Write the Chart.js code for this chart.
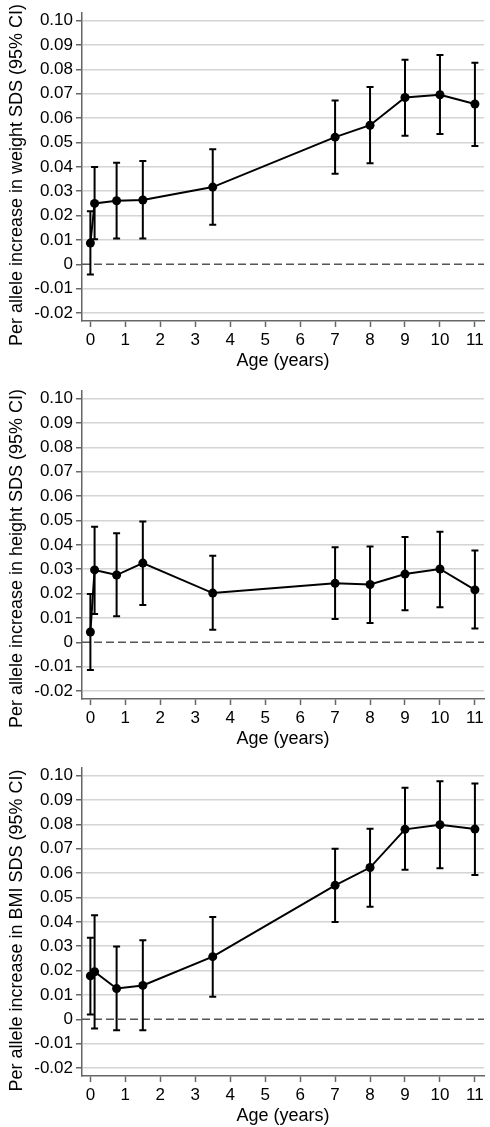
<!DOCTYPE html>
<html>
<head>
<meta charset="utf-8">
<script src="https://cdn.jsdelivr.net/npm/chart.js@4.4.1/dist/chart.umd.min.js"></script>
<style>
  html, body { margin: 0; padding: 0; background: #fff; }
  #wrap { position: relative; width: 490px; height: 1127px; }
  .panel { position: absolute; left: 0; width: 490px; height: 372px; }
</style>
</head>
<body>
<div id="wrap">
  <div class="panel" style="top:0px"><canvas id="chartWeight"></canvas></div>
  <div class="panel" style="top:378px"><canvas id="chartHeight"></canvas></div>
  <div class="panel" style="top:755px"><canvas id="chartBmi"></canvas></div>
</div>
<script>
// ages of measurement (years)
const ages = [0, 0.12, 0.75, 1.5, 3.5, 7, 8, 9, 10, 11];

// weight SDS
const weightEst = [0.0087, 0.0250, 0.0261, 0.0264, 0.0317, 0.0522, 0.0571, 0.0685, 0.0696, 0.0658];
const weightLo  = [-0.0042, 0.0103, 0.0106, 0.0106, 0.0162, 0.0372, 0.0415, 0.0528, 0.0535, 0.0486];
const weightHi  = [0.0218, 0.0399, 0.0417, 0.0424, 0.0472, 0.0673, 0.0728, 0.0840, 0.0859, 0.0828];

// height SDS
const heightEst = [0.0042, 0.0297, 0.0276, 0.0325, 0.0202, 0.0242, 0.0237, 0.0280, 0.0301, 0.0215];
const heightLo  = [-0.0114, 0.0116, 0.0107, 0.0153, 0.0051, 0.0096, 0.0079, 0.0131, 0.0144, 0.0056];
const heightHi  = [0.0198, 0.0474, 0.0448, 0.0496, 0.0355, 0.0390, 0.0393, 0.0432, 0.0454, 0.0377];

// BMI SDS
const bmiEst = [0.0178, 0.0195, 0.0126, 0.0139, 0.0257, 0.0550, 0.0623, 0.0780, 0.0799, 0.0781];
const bmiLo  = [0.0020, -0.0038, -0.0045, -0.0045, 0.0092, 0.0399, 0.0462, 0.0614, 0.0620, 0.0592];
const bmiHi  = [0.0335, 0.0427, 0.0299, 0.0324, 0.0420, 0.0700, 0.0782, 0.0951, 0.0977, 0.0968];

// axis ticks
const xTicks = [0, 1, 2, 3, 4, 5, 6, 7, 8, 9, 10, 11];
const yTicks = [-0.02, -0.01, 0, 0.01, 0.02, 0.03, 0.04, 0.05, 0.06, 0.07, 0.08, 0.09, 0.10];
const yTickLabels = ["-0.02", "-0.01", "0", "0.01", "0.02", "0.03", "0.04", "0.05", "0.06", "0.07", "0.08", "0.09", "0.10"];

const axisColor = "#666666";
const gridColor = "#d4d4d4";
const fontFamily = "'Liberation Sans', Arial, sans-serif";

// error bars, dashed zero line and y title, drawn with the chart's own scales
const ciPlugin = {
    id: "ciBars",
    beforeDatasetsDraw(chart) {
        const ctx = chart.ctx;
        const xs = chart.scales.x;
        const ys = chart.scales.y;
        const area = chart.chartArea;

        // reference line at 0
        ctx.save();
        ctx.strokeStyle = "#555555";
        ctx.lineWidth = 1.5;
        ctx.setLineDash([8, 4]);
        const y0 = ys.getPixelForValue(0);
        ctx.beginPath();
        ctx.moveTo(area.left, y0);
        ctx.lineTo(area.right, y0);
        ctx.stroke();
        ctx.restore();

        const ci = chart.options.plugins.ciBars;
        ctx.save();
        ctx.strokeStyle = "#000";
        ctx.lineWidth = 2;
        ages.forEach((a, i) => {
            const x = xs.getPixelForValue(a);
            const yl = ys.getPixelForValue(ci.lo[i]);
            const yh = ys.getPixelForValue(ci.hi[i]);
            ctx.beginPath();
            ctx.moveTo(x, yl); ctx.lineTo(x, yh);
            ctx.moveTo(x - 3.5, yl); ctx.lineTo(x + 3.5, yl);
            ctx.moveTo(x - 3.5, yh); ctx.lineTo(x + 3.5, yh);
            ctx.stroke();
        });
        ctx.restore();
    },
    afterDraw(chart) {
        // y axis title, centred a bit lower than the plot area (as in the original)
        const ci = chart.options.plugins.ciBars;
        const ctx = chart.ctx;
        ctx.save();
        ctx.fillStyle = "#000";
        ctx.font = "18px " + fontFamily;
        ctx.textAlign = "center";
        ctx.textBaseline = "alphabetic";
        ctx.translate(21.5, ci.titleY);
        ctx.rotate(-Math.PI / 2);
        ctx.fillText(ci.title, 0, 0);
        ctx.restore();
    }
};

function drawPanel(id, yTitle, titleY, est, lo, hi) {
    new Chart(document.getElementById(id), {
        type: "line",
        data: {
            datasets: [{
                data: ages.map((a, i) => ({ x: a, y: est[i] })),
                borderColor: "#000",
                borderWidth: 2,
                backgroundColor: "#000",
                pointRadius: 4.5,
                pointBackgroundColor: "#000",
                pointBorderWidth: 0,
                tension: 0
            }]
        },
        options: {
            responsive: true,
            maintainAspectRatio: false,
            animation: false,
            layout: { padding: { top: 10, right: 6, left: 0, bottom: 0 } },
            plugins: {
                legend: { display: false },
                tooltip: { enabled: false },
                ciBars: { lo: lo, hi: hi, title: yTitle, titleY: titleY }
            },
            scales: {
                x: {
                    type: "linear",
                    min: -0.24,
                    max: 11.26,
                    afterBuildTicks: s => { s.ticks = xTicks.map(v => ({ value: v })); },
                    afterFit: s => { s.height = 51; },
                    border: { display: true, color: axisColor, width: 1.5 },
                    grid: { drawOnChartArea: false, tickLength: 6, tickColor: axisColor, tickWidth: 1.5 },
                    ticks: { color: "#000", padding: 3, maxRotation: 0, font: { family: fontFamily, size: 17 } },
                    title: {
                        display: true,
                        text: "Age (years)",
                        color: "#000",
                        padding: { top: 0, bottom: 0 },
                        font: { family: fontFamily, size: 18 }
                    }
                },
                y: {
                    type: "linear",
                    min: -0.0233,
                    max: 0.1031,
                    afterBuildTicks: s => { s.ticks = yTicks.map(v => ({ value: v })); },
                    afterFit: s => { s.width = 82; },
                    border: { display: true, color: axisColor, width: 1.5 },
                    grid: {
                        color: c => (c.tick && Math.abs(c.tick.value) < 1e-9 ? "rgba(0,0,0,0)" : gridColor),
                        lineWidth: 1.5,
                        tickLength: 6,
                        tickColor: axisColor,
                        tickWidth: 1.5
                    },
                    ticks: {
                        color: "#000",
                        padding: 3,
                        font: { family: fontFamily, size: 17 },
                        callback: (v, i) => yTickLabels[i]
                    },
                    title: { display: false }
                }
            }
        },
        plugins: [ciPlugin]
    });
}

drawPanel("chartWeight", "Per allele increase in weight SDS (95% CI)", 175, weightEst, weightLo, weightHi);
drawPanel("chartHeight", "Per allele increase in height SDS (95% CI)", 180.5, heightEst, heightLo, heightHi);
drawPanel("chartBmi", "Per allele increase in BMI SDS (95% CI)", 175.5, bmiEst, bmiLo, bmiHi);
</script>
</body>
</html>
